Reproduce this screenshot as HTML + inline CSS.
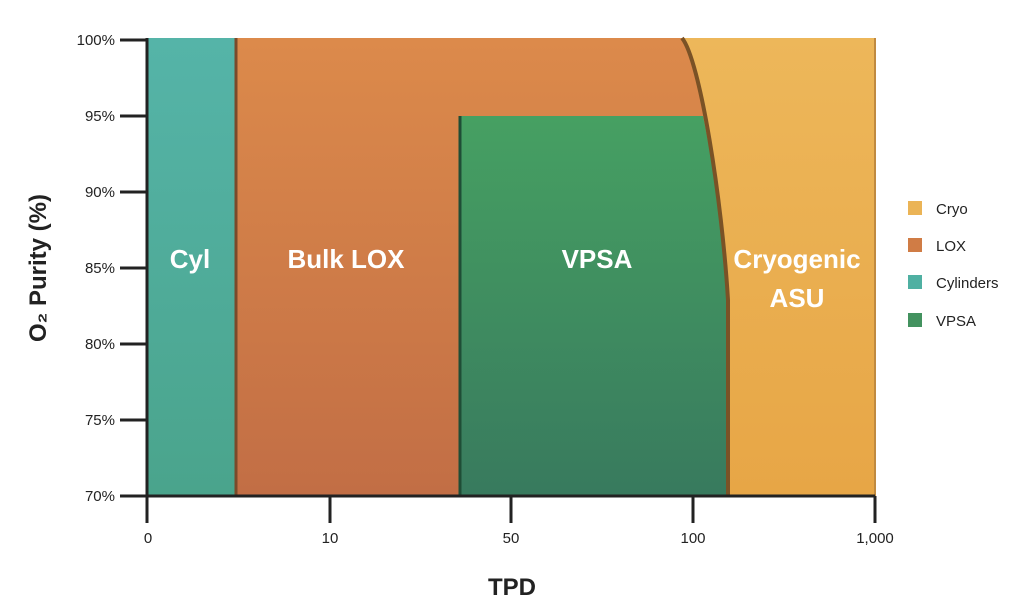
<!DOCTYPE html>
<html><head><meta charset="utf-8"><style>body{margin:0;background:#fff}svg{display:block}text{font-family:"Liberation Sans",sans-serif}</style></head><body>
<svg width="1024" height="610" viewBox="0 0 1024 610">
<defs>
<linearGradient id="lox" x1="0" y1="0" x2="0" y2="1"><stop offset="0" stop-color="#dc8a4b"/><stop offset="1" stop-color="#c26e45"/></linearGradient>
<linearGradient id="cyl" x1="0" y1="0" x2="0" y2="1"><stop offset="0" stop-color="#55b4a8"/><stop offset="1" stop-color="#4aa48c"/></linearGradient>
<linearGradient id="vpsa" x1="0" y1="0" x2="0" y2="1"><stop offset="0" stop-color="#46a062"/><stop offset="1" stop-color="#387a5e"/></linearGradient>
<linearGradient id="cryo" x1="0" y1="0" x2="0" y2="1"><stop offset="0" stop-color="#edb75a"/><stop offset="1" stop-color="#e7a646"/></linearGradient>
</defs>
<rect x="148" y="38" width="88" height="458" fill="url(#cyl)"/>
<path d="M236,38 L682,38 C700,60 722,200 728,300 L728,496 L236,496 Z" fill="url(#lox)"/>
<path d="M682,38 L875,38 L875,496 L728,496 L728,300 C722,200 700,60 682,38 Z" fill="url(#cryo)"/>
<path d="M459,116 L703,116 C712,160 724,230 727,300 L728,496 L459,496 Z" fill="url(#vpsa)"/>
<path d="M682,38 C700,60 722,200 728,300 L728,496" fill="none" stroke="#7a5226" stroke-width="4"/>
<line x1="236" y1="38" x2="236" y2="496" stroke="#7a4a2a" stroke-width="3"/>
<line x1="460" y1="116" x2="460" y2="496" stroke="#1f4d36" stroke-width="3"/>
<line x1="875" y1="38" x2="875" y2="496" stroke="#c08a40" stroke-width="2"/>
<g stroke="#222" stroke-width="3">
<line x1="147" y1="38" x2="147" y2="523"/>
<line x1="120" y1="496" x2="875" y2="496"/>
<line x1="120" y1="40" x2="148" y2="40"/><line x1="120" y1="116" x2="148" y2="116"/><line x1="120" y1="192" x2="148" y2="192"/><line x1="120" y1="268" x2="148" y2="268"/><line x1="120" y1="344" x2="148" y2="344"/><line x1="120" y1="420" x2="148" y2="420"/>
<line x1="330" y1="496" x2="330" y2="523"/><line x1="511" y1="496" x2="511" y2="523"/><line x1="693" y1="496" x2="693" y2="523"/><line x1="875" y1="496" x2="875" y2="523"/>
</g>
<g font-size="15" fill="#222" text-anchor="end">
<text x="115" y="45">100%</text><text x="115" y="121">95%</text><text x="115" y="197">90%</text><text x="115" y="273">85%</text><text x="115" y="349">80%</text><text x="115" y="425">75%</text><text x="115" y="501">70%</text>
</g>
<g font-size="15" fill="#222" text-anchor="middle">
<text x="148" y="543">0</text><text x="330" y="543">10</text><text x="511" y="543">50</text><text x="693" y="543">100</text><text x="875" y="543">1,000</text>
</g>
<text x="512" y="595" font-size="24" font-weight="bold" text-anchor="middle" fill="#222">TPD</text>
<text transform="translate(46,268) rotate(-90)" font-size="24" font-weight="bold" text-anchor="middle" fill="#222">O₂ Purity (%)</text>
<g font-size="26" font-weight="bold" fill="#fff" text-anchor="middle">
<text x="190" y="268">Cyl</text><text x="346" y="268">Bulk LOX</text><text x="597" y="268">VPSA</text><text x="797" y="268">Cryogenic</text><text x="797" y="307">ASU</text>
</g>
<g font-size="15" fill="#222">
<rect x="908" y="201" width="14" height="14" fill="#ebb456"/><text x="936" y="214">Cryo</text>
<rect x="908" y="238" width="14" height="14" fill="#d07c45"/><text x="936" y="251">LOX</text>
<rect x="908" y="275" width="14" height="14" fill="#4fb0a2"/><text x="936" y="288">Cylinders</text>
<rect x="908" y="313" width="14" height="14" fill="#43925f"/><text x="936" y="326">VPSA</text>
</g>
</svg>
</body></html>
